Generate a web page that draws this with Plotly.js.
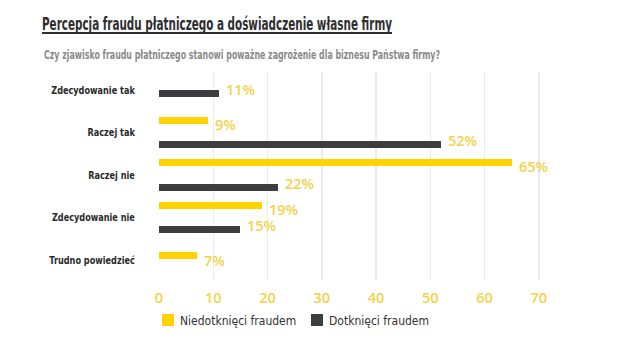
<!DOCTYPE html>
<html>
<head>
<meta charset="utf-8">
<script src="https://cdn.plot.ly/plotly-3.0.1.min.js"></script>
<style>html,body{margin:0;padding:0;background:#fff;}#chart{width:640px;height:342px;}</style>
</head>
<body>
<div id="chart"></div>
<script>
const categories = ['Zdecydowanie tak', 'Raczej tak', 'Raczej nie', 'Zdecydowanie nie', 'Trudno powiedzieć'];
const niedotknieci = [null, 9, 65, 19, 7];
const dotknieci = [11, 52, 22, 15, null];
const xTicks = [0, 10, 20, 30, 40, 50, 60, 70];

const YELLOW = '#ffd200';
const DARK = '#3d3d3f';
const TEXTY = '#f3d24a';
const off = 0.19;

function pos(i, isYellow) {
  const both = niedotknieci[i] != null && dotknieci[i] != null;
  if (!both) return i;
  return isYellow ? i - off : i + off;
}
const yY = categories.map((c, i) => pos(i, true));
const yD = categories.map((c, i) => pos(i, false));

const traces = [
  {type: 'bar', orientation: 'h', name: 'Niedotknięci fraudem', x: niedotknieci, y: yY,
   width: 0.165, marker: {color: YELLOW}, hoverinfo: 'none'},
  {type: 'bar', orientation: 'h', name: 'Dotknięci fraudem', x: dotknieci, y: yD,
   width: 0.165, marker: {color: DARK}, hoverinfo: 'none'}
];

const SUBTITLE = 'Czy zjawisko fraudu płatniczego stanowi poważne zagrożenie dla biznesu Państwa firmy?';
const annotations = [];
[[niedotknieci, yY], [dotknieci, yD]].forEach(([vals, ys]) => {
  vals.forEach((v, i) => {
    if (v == null) return;
    annotations.push({x: v, y: ys[i], xref: 'x', yref: 'y', text: v + '%', showarrow: false,
      xanchor: 'left', xshift: 5, font: {family: 'Open Sans', size: 14.5, color: TEXTY, weight: 600}});
  });
});
annotations.push({xref: 'paper', yref: 'paper', x: -117/407, y: 1 + 17/208, xanchor: 'left', yanchor: 'middle',
  text: SUBTITLE, showarrow: false,
  font: {family: 'DejaVu Sans', size: 11.5, color: '#8a8a8a', weight: 700}});

const layout = {
  width: 640, height: 342,
  margin: {l: 159, r: 74, t: 72, b: 62, autoexpand: false},
  paper_bgcolor: '#fff', plot_bgcolor: '#fff',
  showlegend: true,
  title: {text: 'Percepcja fraudu płatniczego a doświadczenie własne firmy', xref: 'container', yref: 'container',
    x: 42/640, xanchor: 'left', y: 1 - 24/342, yanchor: 'middle',
    font: {family: 'DejaVu Sans', size: 17, color: '#2e2e30', weight: 700}},
  xaxis: {range: [0, 75], tickvals: xTicks, ticktext: xTicks.map(String), showgrid: true,
    gridcolor: '#ebebeb', gridwidth: 1.5, zeroline: false, showline: false,
    ticks: 'outside', ticklen: 5, tickcolor: 'rgba(0,0,0,0)',
    tickfont: {family: 'Open Sans', size: 14.5, color: TEXTY, weight: 600}, fixedrange: true},
  yaxis: {range: [4.47, -0.42], tickvals: categories.map((c, i) => i), ticktext: categories,
    showgrid: false, zeroline: false, showline: false, ticks: 'outside', ticklen: 21, tickcolor: 'rgba(0,0,0,0)',
    tickfont: {family: 'DejaVu Sans', size: 11, color: '#2a2a2a', weight: 700}, fixedrange: true},
  legend: {orientation: 'h', x: -11/407, xanchor: 'left', y: -40/208, yanchor: 'middle',
    entrywidth: 104, entrywidthmode: 'pixels',
    font: {family: 'DejaVu Sans', size: 12, color: '#333'}, traceorder: 'normal'},
  shapes: [{type: 'line', xref: 'paper', yref: 'paper', x0: -117/407, x1: 233/407, y0: 1 + 39/208, y1: 1 + 39/208,
    line: {color: '#2e2e30', width: 2}}],
  annotations: annotations,
  bargap: 0
};

function fitWidth(el, w) {
  el.setAttribute('textLength', w);
  el.setAttribute('lengthAdjust', 'spacingAndGlyphs');
}

Plotly.newPlot('chart', traces, layout, {displayModeBar: false, staticPlot: true}).then(gd => {
  const t = gd.querySelector('.gtitle');
  if (t) fitWidth(t, 350);
  gd.querySelectorAll('.annotation-text').forEach(el => {
    if (el.textContent === SUBTITLE) {
      const x0 = el.getBBox().x;
      fitWidth(el, 396);
      const x1 = el.getBBox().x;
      el.setAttribute('x', parseFloat(el.getAttribute('x') || 0) + (x0 - x1));
    }
  });
  gd.querySelectorAll('.ytick text').forEach(el => {
    fitWidth(el, el.getComputedTextLength() * 0.74);
  });
  gd.querySelectorAll('.legendtext').forEach(el => {
    fitWidth(el, el.getComputedTextLength() * 0.9);
    el.setAttribute('x', 32);
  });
});
</script>
</body>
</html>
